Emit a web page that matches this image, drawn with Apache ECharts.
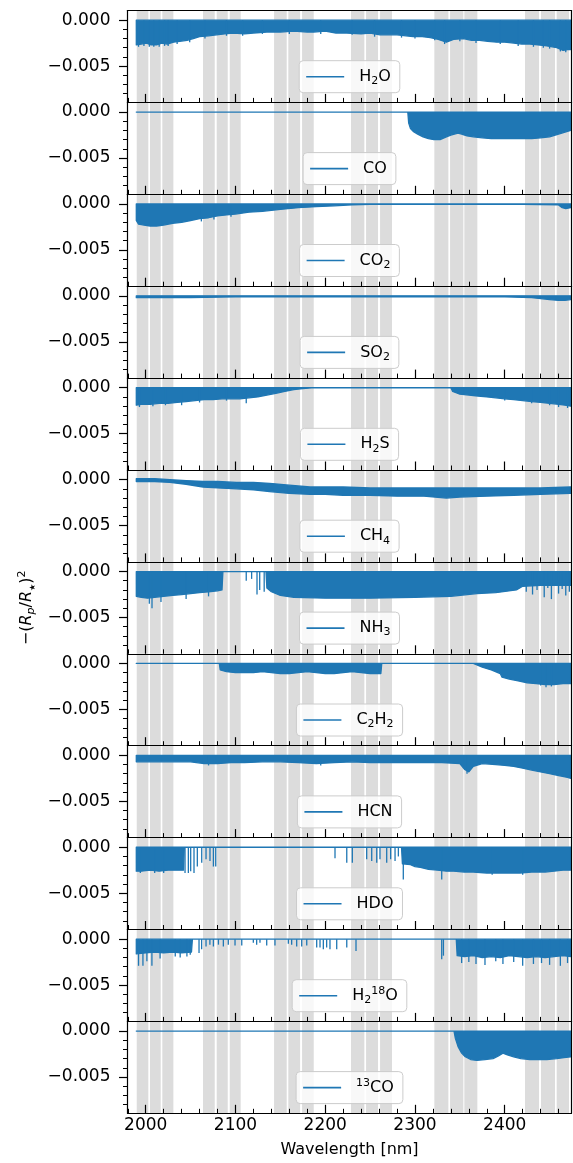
<!DOCTYPE html>
<html>
<head>
<meta charset="utf-8">
<script src="https://cdn.jsdelivr.net/npm/echarts@6/dist/echarts.min.js"></script>
<style>html,body{margin:0;padding:0;background:#fff}#c{width:573px;height:1163px}</style>
</head>
<body>
<div id="c"></div>
<script>
// ---------------- data ----------------
// shaded wavelength windows [start, end] in nm
const bands = [
  [1990.0,2002.9],[2004.8,2016.7],[2018.5,2030.8],
  [2063.8,2076.9],[2079.1,2091.4],[2093.6,2105.8],
  [2143.0,2157.1],[2158.9,2172.0],[2174.2,2187.2],
  [2228.7,2243.6],[2245.5,2258.8],[2261.1,2274.4],
  [2321.6,2337.2],[2339.1,2353.9],[2355.0,2369.5],
  [2422.6,2438.2],[2440.4,2456.0],[2457.9,2471.6]
];
const xTicksMajor = [2000, 2100, 2200, 2300, 2400];
const xTicksMinor = [1980, 2020, 2040, 2060, 2080, 2120, 2140, 2160, 2180, 2220, 2240, 2260, 2280, 2320, 2340, 2360, 2380, 2420, 2440, 2460];
const yTicksMajor = [0, -0.005];
const yTicksMinor = [-0.001, -0.002, -0.003, -0.004, -0.006, -0.007, -0.008];

// envelopes: [wavelength, lower] (upper edge at 0) or [wavelength, upper, lower]
const h2o_env = [[1989.5,-0.0027],[1995,-0.0026],[2001,-0.0025],[2006,-0.0027],[2012,-0.0027],[2018,-0.0025],[2024,-0.0026],[2031,-0.0024],[2038,-0.0023],[2046,-0.0022],[2053,-0.0020],[2060,-0.0018],[2070,-0.0017],[2079,-0.0016],[2088,-0.0015],[2098,-0.0014],[2110,-0.0015],[2120,-0.0014],[2135,-0.0013],[2150,-0.0013],[2165,-0.0012],[2180,-0.0013],[2187,-0.0013],[2200,-0.0012],[2212,-0.0014],[2224,-0.0014],[2240,-0.0015],[2250,-0.0014],[2261,-0.0016],[2270,-0.0016],[2280,-0.0016],[2290,-0.0017],[2298,-0.0018],[2308,-0.0018],[2317,-0.0019],[2326,-0.0021],[2335,-0.0024],[2343,-0.0021],[2354,-0.0020],[2363,-0.0022],[2372,-0.0022],[2381,-0.0023],[2391,-0.0024],[2400,-0.0024],[2410,-0.0025],[2419,-0.0026],[2428,-0.0026],[2437,-0.0027],[2447,-0.0028],[2453,-0.0029],[2458,-0.0030],[2465,-0.0033],[2470,-0.0032],[2473.5,-0.0032]];
const h2o_lines = [[1992,-0.0029],[1998,-0.0028],[2004,-0.0029],[2009,-0.0029],[2015,-0.0029],[2021,-0.0028],[2025,-0.0028],[2035,-0.0026],[2049,-0.0024],[2066,-0.0020],[2090,-0.0017],[2108,-0.0017],[2130,-0.0015],[2160,-0.0015],[2195,-0.0015],[2230,-0.0016],[2255,-0.0018],[2285,-0.0019],[2300,-0.0020],[2322,-0.0022],[2333,-0.0026],[2350,-0.0023],[2368,-0.0025],[2395,-0.0026],[2415,-0.0028],[2432,-0.0029],[2443,-0.0030],[2450,-0.0031],[2462,-0.0034],[2468,-0.0035]];

const co_env = [[1989.5,0],[2292,0],[2293,-0.0012],[2295,-0.0018],[2298,-0.0021],[2303,-0.0024],[2309,-0.0027],[2315,-0.0029],[2321,-0.0030],[2328,-0.0030],[2335,-0.0027],[2340,-0.0025],[2344,-0.0024],[2348,-0.0023],[2352,-0.0024],[2358,-0.0026],[2365,-0.0027],[2375,-0.0028],[2385,-0.0029],[2395,-0.0029],[2410,-0.0029],[2420,-0.0029],[2430,-0.0029],[2440,-0.0028],[2450,-0.0027],[2460,-0.0024],[2470,-0.0021],[2473.5,-0.0020]];
const co_lines = [];

const co2_env = [[1989.5,-0.0018],[1992,-0.0022],[1998,-0.0023],[2005,-0.0024],[2012,-0.0024],[2020,-0.0023],[2030,-0.0021],[2040,-0.0020],[2050,-0.0018],[2060,-0.0016],[2070,-0.0015],[2080,-0.0013],[2090,-0.0012],[2100,-0.0011],[2115,-0.0009],[2130,-0.0008],[2150,-0.0006],[2170,-0.0004],[2190,-0.0003],[2210,-0.0002],[2230,-0.0001],[2250,-0.00005],[2300,-0.00003],[2420,-0.00003],[2460,-0.0001],[2464,-0.0004],[2468,-0.0005],[2473.5,-0.0004]];
const co2_lines = [[2062,-0.0019],[2076,-0.0017],[2095,-0.0014]];

const so2_env = [[1989.5,-0.0002],[2050,-0.0002],[2100,-0.0001],[2200,-0.0001],[2300,-0.0001],[2400,-0.0001],[2430,-0.0002],[2440,-0.0003],[2450,-0.0004],[2460,-0.0005],[2467,-0.0005],[2473.5,-0.0004]];
const so2_lines = [];

const h2s_env = [[1989.5,-0.0019],[1995,-0.0018],[2005,-0.0018],[2015,-0.0017],[2025,-0.0017],[2035,-0.0016],[2045,-0.0015],[2055,-0.0014],[2065,-0.0013],[2075,-0.0013],[2085,-0.0012],[2095,-0.0012],[2105,-0.0012],[2115,-0.0011],[2125,-0.0010],[2135,-0.0008],[2145,-0.0006],[2155,-0.0004],[2165,-0.0002],[2175,-0.0001],[2185,0],[2340,0],[2342,-0.0004],[2350,-0.0007],[2360,-0.0008],[2370,-0.0009],[2380,-0.0010],[2390,-0.0011],[2400,-0.0012],[2410,-0.0013],[2420,-0.0014],[2430,-0.0015],[2440,-0.0016],[2450,-0.0017],[2460,-0.0018],[2467,-0.0019],[2473.5,-0.0020]];
const h2s_lines = [[1993,-0.0021],[2008,-0.0020],[2022,-0.0019],[2040,-0.0019],[2060,-0.0016],[2090,-0.0014],[2112,-0.0017],[2400,-0.0014],[2430,-0.0017],[2450,-0.0019],[2460,-0.0021],[2470,-0.0022]];

const ch4_env = [[1989.5,0.0001,-0.0002],[2010,0.0001,-0.0002],[2027,0,-0.0003],[2045,-0.0001,-0.0005],[2064,-0.0002,-0.0008],[2080,-0.0002,-0.0009],[2101,-0.0003,-0.0010],[2120,-0.0003,-0.0011],[2138,-0.0004,-0.0013],[2160,-0.0006,-0.0015],[2183,-0.0008,-0.0016],[2200,-0.0008,-0.0016],[2220,-0.0008,-0.0017],[2250,-0.0009,-0.0017],[2280,-0.0009,-0.0018],[2310,-0.0009,-0.0018],[2335,-0.0009,-0.0020],[2350,-0.0009,-0.0019],[2380,-0.0009,-0.0018],[2410,-0.0009,-0.0017],[2440,-0.0009,-0.0016],[2473.5,-0.0008,-0.0015]];
const ch4_lines = [];

const nh3_env = [[1989.5,-0.0027],[1995,-0.0028],[2002,-0.0029],[2010,-0.0028],[2020,-0.0027],[2030,-0.0026],[2040,-0.0025],[2050,-0.0024],[2060,-0.0023],[2070,-0.0022],[2080,-0.0021],[2085,-0.0020],[2086,0],[2134,0],[2135,-0.0018],[2140,-0.0022],[2150,-0.0026],[2165,-0.0028],[2200,-0.0029],[2250,-0.0029],[2300,-0.0028],[2340,-0.0027],[2369,-0.0024],[2390,-0.0023],[2413,-0.0020],[2420,-0.0016],[2440,-0.0015],[2460,-0.0015],[2473.5,-0.0015]];
const nh3_lines = [[2004,-0.0035],[2007,-0.0040],[2017,-0.0033],[2045,-0.0030],[2070,-0.0027],[2112,-0.0010],[2118,-0.0008],[2124,-0.0025],[2127,-0.0020],[2132,-0.0022],[2424,-0.0022],[2431,-0.0025],[2436,-0.0020],[2444,-0.0028],[2448,-0.0018],[2452,-0.0030],[2460,-0.0024],[2464,-0.0019],[2468,-0.0026],[2472,-0.0022]];

const c2h2_env = [[1989.5,0],[2082,0],[2083,-0.0007],[2090,-0.0009],[2100,-0.0010],[2110,-0.0010],[2120,-0.0010],[2130,-0.0009],[2140,-0.0010],[2150,-0.0011],[2160,-0.0011],[2170,-0.0010],[2180,-0.0009],[2190,-0.0010],[2200,-0.0011],[2210,-0.0011],[2220,-0.0010],[2230,-0.0009],[2240,-0.0010],[2250,-0.0011],[2262,-0.0011],[2263,0],[2365,0],[2375,-0.0004],[2385,-0.0007],[2395,-0.0011],[2397,-0.0015],[2405,-0.0017],[2415,-0.0019],[2425,-0.0021],[2435,-0.0022],[2445,-0.0023],[2455,-0.0023],[2465,-0.0022],[2473.5,-0.0022]];
const c2h2_lines = [[2440,-0.0024],[2446,-0.0026],[2452,-0.0025]];

const hcn_env = [[1989.5,-0.0007],[2010,-0.0007],[2030,-0.0007],[2050,-0.0007],[2065,-0.0009],[2080,-0.0009],[2095,-0.0008],[2110,-0.0008],[2130,-0.0007],[2150,-0.0007],[2170,-0.0008],[2190,-0.0009],[2210,-0.0008],[2230,-0.0007],[2250,-0.0008],[2270,-0.0008],[2290,-0.0008],[2310,-0.0008],[2330,-0.0008],[2350,-0.0009],[2355,-0.0015],[2360,-0.0018],[2365,-0.0012],[2375,-0.0009],[2390,-0.0010],[2400,-0.0011],[2410,-0.0012],[2420,-0.0014],[2430,-0.0016],[2440,-0.0018],[2450,-0.0020],[2460,-0.0022],[2470,-0.0024],[2473.5,-0.0025]];
const hcn_lines = [[2070,-0.0011],[2195,-0.0011],[2358,-0.0020]];

const hdo_env = [[1989.5,-0.0026],[1995,-0.0026],[2005,-0.0025],[2015,-0.0026],[2025,-0.0025],[2035,-0.0025],[2042,-0.0025],[2043,0],[2285,0],[2286,-0.0018],[2295,-0.0019],[2300,-0.0021],[2306,-0.0022],[2315,-0.0024],[2325,-0.0025],[2335,-0.0026],[2343,-0.0026],[2355,-0.0027],[2365,-0.0027],[2380,-0.0028],[2400,-0.0028],[2417,-0.0028],[2430,-0.0027],[2445,-0.0027],[2455,-0.0026],[2465,-0.0025],[2473.5,-0.0025]];
const hdo_lines = [[1994,-0.0028],[2010,-0.0028],[2020,-0.0028],[2043.8,-0.0028],[2047.5,-0.0028],[2050.1,-0.0026],[2053.8,-0.0028],[2057.5,-0.0021],[2062.4,-0.0017],[2067.2,-0.0013],[2071.6,-0.0015],[2075.4,-0.0021],[2078.0,-0.0021],[2210.9,-0.0012],[2224,-0.0017],[2230.2,-0.0017],[2246.2,-0.0013],[2251.8,-0.0015],[2257.4,-0.0017],[2261,-0.0013],[2268.5,-0.0017],[2272.9,-0.0013],[2277.8,-0.0015],[2281.5,-0.0010],[2287,-0.0035],[2329.8,-0.0035],[2386,-0.0030],[2420,-0.0030]];

const h218o_env = [[1989.5,-0.0016],[2000,-0.0015],[2010,-0.0014],[2020,-0.0015],[2030,-0.0014],[2040,-0.0015],[2051,-0.0014],[2052,0],[2346,0],[2347,-0.0018],[2355,-0.0019],[2365,-0.0018],[2375,-0.0020],[2385,-0.0019],[2395,-0.0020],[2405,-0.0018],[2415,-0.0019],[2425,-0.0020],[2435,-0.0019],[2445,-0.0020],[2455,-0.0019],[2465,-0.0018],[2473.5,-0.0019]];
const h218o_lines = [[1992,-0.0029],[1996.9,-0.0029],[2001.3,-0.0024],[2006.9,-0.0029],[2016,-0.0021],[2032.9,-0.0019],[2038.4,-0.0020],[2045.9,-0.0019],[2049.6,-0.0017],[2059.4,-0.0015],[2062.3,-0.0011],[2067.2,-0.0008],[2071.5,-0.0006],[2075.4,-0.0008],[2081,-0.0006],[2086.5,-0.0008],[2092,-0.0006],[2099.5,-0.0007],[2107,-0.0007],[2119.9,-0.0004],[2123.6,-0.0006],[2127.3,-0.0004],[2134.8,-0.0007],[2144,-0.0007],[2158.9,-0.0005],[2162.6,-0.0006],[2168.2,-0.0008],[2173.8,-0.0008],[2179.4,-0.0007],[2190.5,-0.0009],[2194.2,-0.0009],[2197.9,-0.0011],[2201.6,-0.0009],[2205.3,-0.0011],[2212.8,-0.0011],[2224,-0.0009],[2234.3,-0.0013],[2329.8,-0.0022],[2331.7,-0.0018],[2352,-0.0026],[2360,-0.0025],[2368,-0.0027],[2378,-0.0028],[2390,-0.0024],[2398,-0.0027],[2410,-0.0025],[2420,-0.0029],[2432,-0.0027],[2441,-0.0026],[2450,-0.0028],[2462,-0.0029],[2470,-0.0026]];

const co13_env = [[1989.5,0],[2343.5,0],[2345,-0.0008],[2348,-0.0017],[2352,-0.0024],[2356,-0.0028],[2362,-0.0031],[2369,-0.0032],[2378,-0.0031],[2387,-0.0030],[2393,-0.0027],[2398,-0.0024],[2403,-0.0026],[2410,-0.0028],[2418,-0.0030],[2428,-0.0031],[2440,-0.0031],[2447,-0.0031],[2458,-0.0030],[2466,-0.0029],[2473.5,-0.0028]];
const co13_lines = [];

// ---------------- chart ----------------
const X_MIN = 1979.7, X_MAX = 2474.4, Y_MIN = -0.00895, Y_MAX = 0.00105;
const GRID_LEFT = 127.5, GRID_WIDTH = 444, GRID_TOP0 = 10.5, PANEL_H = 91.9;
const BLUE = '#1f77b4', BAND = '#dcdcdc', FONT = 'DejaVu Sans';

const panels = [
  {key:'H2O',   parts:[['H','n'],['2','sub'],['O','n']], env:h2o_env, lines:h2o_lines},
  {key:'CO',    parts:[['CO','n']], env:co_env, lines:co_lines},
  {key:'CO2',   parts:[['CO','n'],['2','sub']], env:co2_env, lines:co2_lines},
  {key:'SO2',   parts:[['SO','n'],['2','sub']], env:so2_env, lines:so2_lines},
  {key:'H2S',   parts:[['H','n'],['2','sub'],['S','n']], env:h2s_env, lines:h2s_lines},
  {key:'CH4',   parts:[['CH','n'],['4','sub']], env:ch4_env, lines:ch4_lines},
  {key:'NH3',   parts:[['NH','n'],['3','sub']], env:nh3_env, lines:nh3_lines},
  {key:'C2H2',  parts:[['C','n'],['2','sub'],['H','n'],['2','sub']], env:c2h2_env, lines:c2h2_lines},
  {key:'HCN',   parts:[['HCN','n']], env:hcn_env, lines:hcn_lines},
  {key:'HDO',   parts:[['HDO','n']], env:hdo_env, lines:hdo_lines},
  {key:'H2_18O',parts:[['H','n'],['2','sub'],['18','sup'],['O','n']], env:h218o_env, lines:h218o_lines},
  {key:'13CO',  parts:[['13','sup'],['CO','n']], env:co13_env, lines:co13_lines}
];

const ctx = document.createElement('canvas').getContext('2d');
function partsWidth(parts) {
  let w = 0;
  parts.forEach(([t, s]) => { ctx.font = (s === 'n' ? 16 : 11) + 'px "' + FONT + '"'; w += ctx.measureText(t).width; });
  return w;
}
const richStyles = {
  pad: {width: 10},
  n: {fontSize: 16, fontFamily: FONT, color: '#000'},
  sub: {fontSize: 11, fontFamily: FONT, color: '#000', verticalAlign: 'bottom', lineHeight: 10},
  sup: {fontSize: 11, fontFamily: FONT, color: '#000', verticalAlign: 'top', lineHeight: 10}
};
const yFmt = v => (v < 0 ? '\u2212' : '') + Math.abs(v).toFixed(3);
const xFmt = v => String(Math.round(v));
const axisColor = '#000';

const option = {animation: false, color: [BLUE], grid: [], xAxis: [], yAxis: [], series: [], legend: []};
const nP = panels.length;

panels.forEach((p, i) => {
  const top = GRID_TOP0 + PANEL_H * i;
  const last = i === nP - 1;
  option.grid.push({left: GRID_LEFT, top: top, width: GRID_WIDTH, height: PANEL_H, outerBoundsMode: 'none', containLabel: false});
  const xa = option.xAxis.length, ya = option.yAxis.length;
  const common = {gridIndex: i, type: 'value', splitLine: {show: false}, z: 10};
  // x axes: majors (bottom), minors (bottom), top spine
  option.xAxis.push(Object.assign({}, common, {
    position: 'bottom', min: X_MIN, max: X_MAX,
    axisLine: {show: true, onZero: false, lineStyle: {color: axisColor, width: 1.2}},
    axisTick: {show: true, inside: true, length: 8.5, customValues: xTicksMajor, lineStyle: {color: axisColor, width: 1.2}},
    axisLabel: {show: last, customValues: xTicksMajor, margin: 4, fontSize: 17, fontFamily: FONT, color: '#000', formatter: xFmt},
    name: last ? 'Wavelength [nm]' : '', nameLocation: 'middle', nameGap: 29,
    nameTextStyle: {fontSize: 16, fontFamily: FONT, color: '#000'}
  }));
  option.xAxis.push(Object.assign({}, common, {
    position: 'bottom', min: X_MIN, max: X_MAX,
    axisLine: {show: false, onZero: false},
    axisTick: {show: true, inside: true, length: 4.5, customValues: xTicksMinor, lineStyle: {color: axisColor, width: 1}},
    axisLabel: {show: false}
  }));
  option.xAxis.push(Object.assign({}, common, {
    position: 'top', min: X_MIN, max: X_MAX,
    axisLine: {show: true, onZero: false, lineStyle: {color: axisColor, width: 1.2}},
    axisTick: {show: false}, axisLabel: {show: false}
  }));
  // y axes: majors (left), minors (left), right spine
  const yMain = Object.assign({}, common, {
    position: 'left', min: Y_MIN, max: Y_MAX,
    axisLine: {show: true, onZero: false, lineStyle: {color: axisColor, width: 1.2}},
    axisTick: {show: true, inside: false, length: 8.5, customValues: yTicksMajor, lineStyle: {color: axisColor, width: 1.2}},
    axisLabel: {show: true, customValues: yTicksMajor, margin: 17, fontSize: 17, fontFamily: FONT, color: '#000', formatter: yFmt}
  });
  if (i === 6) {
    Object.assign(yMain, {
      name: '\u2212({i|R}{isub|p}/{i|R}{star|\u2605}){sup|2}',
      nameLocation: 'middle', nameRotate: 90, nameGap: 91,
      nameTextStyle: {fontSize: 16, fontFamily: FONT, color: '#000', lineHeight: 20,
        rich: {
          i: {fontSize: 16, fontStyle: 'italic', fontFamily: FONT, color: '#000'},
          isub: {fontSize: 11, fontStyle: 'italic', fontFamily: FONT, color: '#000', verticalAlign: 'bottom', lineHeight: 10},
          star: {fontSize: 8, fontFamily: FONT, color: '#000', verticalAlign: 'bottom', lineHeight: 10},
          sup: {fontSize: 11, fontFamily: FONT, color: '#000', verticalAlign: 'top', lineHeight: 10}
        }}
    });
  }
  option.yAxis.push(yMain);
  option.yAxis.push(Object.assign({}, common, {
    position: 'left', min: Y_MIN, max: Y_MAX,
    axisLine: {show: false, onZero: false},
    axisTick: {show: true, inside: false, length: 4.5, customValues: yTicksMinor, lineStyle: {color: axisColor, width: 1}},
    axisLabel: {show: false}
  }));
  option.yAxis.push(Object.assign({}, common, {
    position: 'right', min: Y_MIN, max: Y_MAX,
    axisLine: {show: true, onZero: false, lineStyle: {color: axisColor, width: 1.2}},
    axisTick: {show: false}, axisLabel: {show: false}
  }));

  // shaded windows
  option.series.push({
    type: 'custom', coordinateSystem: 'cartesian2d', xAxisIndex: xa, yAxisIndex: ya, z: 1, silent: true,
    data: bands, encode: {x: [0, 1]},
    renderItem: (params, api) => {
      const a = api.coord([api.value(0), Y_MAX]);
      const b = api.coord([api.value(1), Y_MIN]);
      return {type: 'rect', shape: {x: a[0], y: a[1], width: b[0] - a[0], height: b[1] - a[1]}, style: {fill: BAND}};
    }
  });
  // spectrum envelope
  const rows = p.env.map(r => r.length > 2 ? [r[0], r[1], r[2]] : [r[0], 0, r[1]]);
  option.series.push({
    type: 'custom', name: p.key, coordinateSystem: 'cartesian2d', xAxisIndex: xa, yAxisIndex: ya, z: 3, silent: true,
    data: rows, encode: {x: 0, y: [1, 2]},
    itemStyle: {color: BLUE},
    renderItem: (params, api) => {
      if (params.dataIndex !== 0) return null;
      const upper = rows.map(r => api.coord([r[0], r[1]]));
      const lower = rows.map(r => api.coord([r[0], r[2]])).reverse();
      return {type: 'polygon', shape: {points: upper.concat(lower)},
        style: {fill: BLUE, stroke: BLUE, lineWidth: 1.3, lineJoin: 'round'}};
    }
  });
  // individual deep lines
  if (p.lines.length) {
    option.series.push({
      type: 'custom', coordinateSystem: 'cartesian2d', xAxisIndex: xa, yAxisIndex: ya, z: 3, silent: true,
      data: p.lines, encode: {x: 0, y: 1},
      renderItem: (params, api) => {
        const a = api.coord([api.value(0), 0]);
        const b = api.coord([api.value(0), api.value(1)]);
        return {type: 'line', shape: {x1: a[0], y1: a[1], x2: b[0], y2: b[1]}, style: {stroke: BLUE, lineWidth: 1.3}};
      }
    });
  }
  // legend
  const rich = p.parts.map(([t, s]) => '{' + s + '|' + t + '}').join('');
  const w = 7 + 38 + 5 + 10 + partsWidth(p.parts) + 9;
  option.legend.push({
    data: [{name: p.key, icon: 'rect', itemStyle: {color: BLUE}}],
    selectedMode: false,
    left: GRID_LEFT + GRID_WIDTH / 2 - w / 2, top: top + 50.2,
    itemWidth: 38, itemHeight: 1.6,
    padding: [6, 9, 6, 7],
    backgroundColor: 'rgba(255,255,255,0.8)', borderColor: '#cccccc', borderWidth: 1, borderRadius: 4,
    formatter: () => '{pad| }' + rich,
    textStyle: {fontSize: 16, fontFamily: FONT, color: '#000', lineHeight: 20, rich: richStyles}
  });
});

const chart = echarts.init(document.getElementById('c'), null, {renderer: 'canvas'});
chart.setOption(option);
</script>
</body>
</html>
